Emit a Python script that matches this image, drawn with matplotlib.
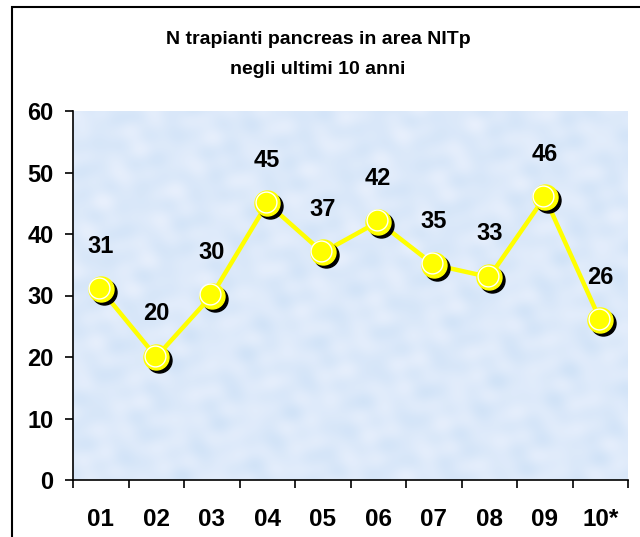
import numpy as np
import matplotlib
matplotlib.use("Agg")
import matplotlib.pyplot as plt
import matplotlib.transforms as mtransforms
from matplotlib.patches import Rectangle

years = ["01", "02", "03", "04", "05", "06", "07", "08", "09", "10*"]
trapianti = [31, 20, 30, 45, 37, 42, 35, 33, 46, 26]
y_ticks = [0, 10, 20, 30, 40, 50, 60]

plt.rcParams['font.family'] = ['Liberation Sans', 'DejaVu Sans']
plt.rcParams['font.weight'] = 'bold'

fig = plt.figure(figsize=(6.4, 5.37), dpi=100)
ax = fig.add_axes([73 / 640, 1 - 480 / 537, (628 - 73) / 640, (480 - 111) / 537])

# light blue mottled background (deterministic pattern, not data)
gx, gy = np.meshgrid(np.linspace(0, 1, 400), np.linspace(0, 1, 260))
tex = np.zeros_like(gx)
for k, (a, b, p) in enumerate([(53, 19, 0.3), (-37, 61, 1.1), (89, -47, 2.0),
                               (23, 101, 0.7), (-131, 29, 1.6), (71, 83, 2.9)]):
    tex += np.sin(gx * a + gy * b + p) / (1 + 0.3 * k)
tex = (tex - tex.min()) / (tex.max() - tex.min())
c1 = np.array([0.82, 0.89, 0.97])
c2 = np.array([0.91, 0.94, 0.99])
img = c1[None, None, :] * (1 - tex[..., None]) + c2[None, None, :] * tex[..., None]
ax.imshow(img, extent=[-0.5, 9.5, 0, 60], aspect='auto', zorder=0,
          interpolation='bilinear')

x = np.arange(len(years))
ax.plot(x, trapianti, color='#ffff00', lw=3.2, zorder=3)

shadow = mtransforms.offset_copy(ax.transData, fig=fig, x=3, y=-3, units='dots')
ax.plot(x, trapianti, 'o', ms=18, color='black', transform=shadow, zorder=4)
ax.plot(x, trapianti, 'o', ms=18, color='#ffff00', mec='#ffff00', zorder=5)
hl = mtransforms.offset_copy(ax.transData, fig=fig, x=-1.5, y=1.5, units='dots')
ax.plot(x, trapianti, 'o', ms=15, mfc='none', mec='white', mew=1.0,
        transform=hl, zorder=6)

for xi, v in zip(x, trapianti):
    ax.annotate(str(v), (xi, v), xytext=(0, 31), textcoords='offset points',
                ha='center', va='center', fontsize=17, fontweight='bold')

ax.set_xlim(-0.5, 9.5)
ax.set_ylim(0, 60)
ax.set_yticks(y_ticks)
ax.set_xticks(x)
ax.set_xticklabels(years)
ax.set_xticks(np.arange(-0.5, 10, 1), minor=True)
ax.tick_params(axis='x', which='major', length=0, pad=20, labelsize=17.5)
ax.tick_params(axis='x', which='minor', length=6, width=1.2, direction='out')
ax.tick_params(axis='y', length=6, width=1.2, direction='out', pad=8, labelsize=17)
for s in ['top', 'right']:
    ax.spines[s].set_visible(False)
for s in ['left', 'bottom']:
    ax.spines[s].set_linewidth(1.2)

fig.text(0.497, 1 - 40 / 537, "N trapianti pancreas in area NITp",
         ha='center', va='center', fontsize=14, fontweight='bold')
fig.text(0.497, 1 - 70 / 537, "negli ultimi 10 anni",
         ha='center', va='center', fontsize=14, fontweight='bold')

fig.patches.append(Rectangle((12 / 640, -0.2), 1.2, 1.2 - 7 / 537,
                             transform=fig.transFigure, fill=False,
                             edgecolor='black', lw=1.5))

fig.savefig("out.png", dpi=100)
